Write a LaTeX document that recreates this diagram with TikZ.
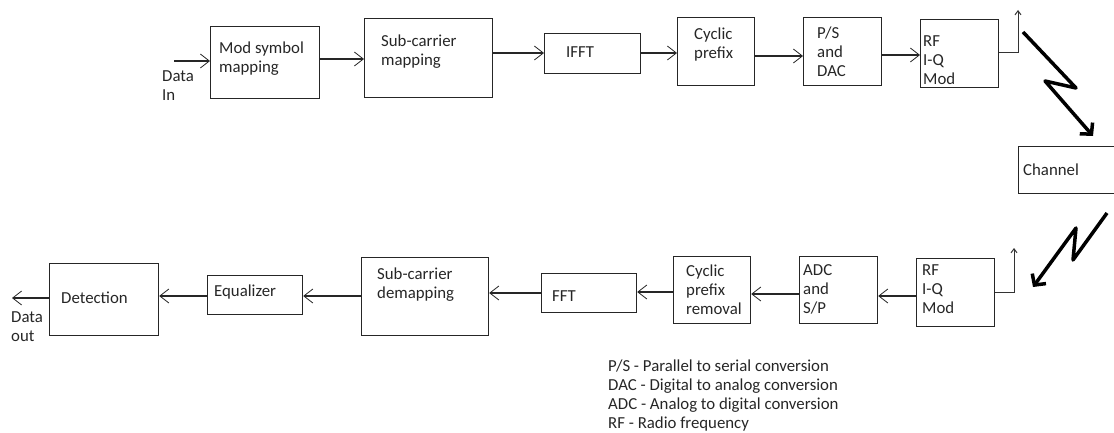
\documentclass[tikz,border=0pt]{standalone}
\usepackage{fontspec}
\setmainfont{Carlito}
\usetikzlibrary{arrows.meta}
\begin{document}
\begin{tikzpicture}[x=1pt,y=-1pt,
  box/.style={draw=black!85, line width=1.2pt, rectangle, inner sep=0pt, anchor=north west},
  txt/.style={anchor=west, align=left, inner sep=0pt, font=\fontsize{16.8}{19}\selectfont, text=black!85},
  arr/.style={draw=black!85, line width=1.1pt, -{Straight Barb[length=9pt,width=14pt,line width=0.8pt]}},
  small/.style={draw=black!80, line width=1pt, -{Straight Barb[length=4pt,width=6pt]}},
  bolt/.style={draw=black, line width=3.5pt, line join=round, -{Straight Barb[length=8pt,width=17pt]}}]
\useasboundingbox (0,0) rectangle (1114,433);
% transmitter chain
\node[box, minimum width=109pt, minimum height=72pt] (mod) at (210,26) {};
\node[box, minimum width=128pt, minimum height=79pt] (sub) at (364,18) {};
\node[box, minimum width=96pt, minimum height=40pt] (ifft) at (544,33) {};
\node[box, minimum width=77pt, minimum height=68pt] (cp) at (677,17) {};
\node[box, minimum width=78pt, minimum height=68pt] (ps) at (803,17) {};
\node[box, minimum width=78pt, minimum height=68pt] (rft) at (920,19) {};
\node[box, minimum width=97pt, minimum height=47pt] (chan) at (1018,146) {};
% receiver chain
\node[box, minimum width=78pt, minimum height=68pt] (rfr) at (916,258) {};
\node[box, minimum width=78pt, minimum height=67pt] (adc) at (799,256) {};
\node[box, minimum width=77pt, minimum height=67pt] (cpr) at (673,256) {};
\node[box, minimum width=95pt, minimum height=39pt] (fft) at (541,273) {};
\node[box, minimum width=127pt, minimum height=78pt] (subd) at (361,257) {};
\node[box, minimum width=95pt, minimum height=39pt] (eq) at (207,275) {};
\node[box, minimum width=109pt, minimum height=72pt] (det) at (49,263) {};
% texts
\node[txt] (modt) at (219,58.5) {Mod symbol\\mapping};
\node[txt] (subt) at (381,51.5) {Sub-carrier\\mapping};
\node[txt] (ifftt) at (566,52) {IFFT};
\node[txt] (cpt) at (694,44.5) {Cyclic\\prefix};
\node[txt] (pst) at (817,52) {P/S\\and\\DAC};
\node[txt] (rftt) at (923,60) {RF\\I-Q\\Mod};
\node[txt] (chant) at (1023,170) {Channel};
\node[txt] (rfrt) at (922,289) {RF\\I-Q\\Mod};
\node[txt] (adct) at (803,289) {ADC\\and\\S/P};
\node[txt] (cprt) at (686,290) {Cyclic\\prefix\\removal};
\node[txt] (fftt) at (552,296) {FFT};
\node[txt] (subdt) at (377,284.5) {Sub-carrier\\demapping};
\node[txt] (eqt) at (214,292) {Equalizer};
\node[txt] (dett) at (61,298) {Detection};
\node[txt] (din) at (162,85.5) {Data\\In};
\node[txt] (dout) at (11,326.5) {Data\\out};
\node[txt] (legend) at (608,395.5) {P/S - Parallel to serial conversion\\DAC - Digital to analog conversion\\ADC - Analog to digital conversion\\RF - Radio frequency};
% coordinates
\coordinate (inS) at (174,61);
\coordinate (outE) at (12,298);
\coordinate (tU) at (1018,10);
\coordinate (rU) at (1014,248);
% transmitter arrows
\draw[arr] (inS) -- (mod.west |- inS);
\draw[arr] (mod.east |- 0,59) -- (sub.west |- 0,59);
\draw[arr] (sub.east |- 0,53) -- (ifft.west |- 0,53);
\draw[arr] (ifft.east |- 0,53) -- (cp.west |- 0,53);
\draw[arr] (cp.east |- 0,56) -- (ps.west |- 0,56);
\draw[arr] (ps.east |- 0,55) -- (rft.west |- 0,55);
\draw[small] (rft.east |- 0,53) -- (tU |- 0,53) -- (tU);
% receiver arrows
\draw[small] (rfr.east |- 0,292) -- (rU |- 0,292) -- (rU);
\draw[arr] (rfr.west |- 0,296) -- (adc.east |- 0,296);
\draw[arr] (adc.west |- 0,294) -- (cpr.east |- 0,294);
\draw[arr] (cpr.west |- 0,292) -- (fft.east |- 0,292);
\draw[arr] (fft.west |- 0,293) -- (subd.east |- 0,293);
\draw[arr] (subd.west |- 0,296) -- (eq.east |- 0,296);
\draw[arr] (eq.west |- 0,296) -- (det.east |- 0,296);
\draw[arr] (det.west |- outE) -- (outE);
% lightning bolts
\draw[bolt] (1023,32) -- (1076,88) -- (1045,81) -- (1093,136);
\draw[bolt] (1107,213) -- (1073,260) -- (1076,228) -- (1033,287);
\end{tikzpicture}
\end{document}
